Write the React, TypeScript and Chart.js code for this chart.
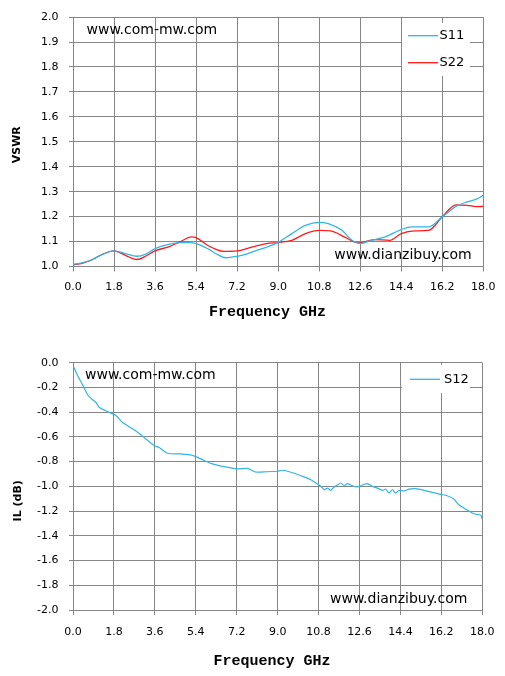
import { useEffect, useRef } from 'react';
import { Chart, registerables } from 'chart.js';

Chart.register(...registerables);

// ---------- data ----------
const freqTicks = [0, 1.8, 3.6, 5.4, 7.2, 9.0, 10.8, 12.6, 14.4, 16.2, 18.0];
const vswrTicks = [1.0, 1.1, 1.2, 1.3, 1.4, 1.5, 1.6, 1.7, 1.8, 1.9, 2.0];
const ilTicks = [0, -0.2, -0.4, -0.6, -0.8, -1.0, -1.2, -1.4, -1.6, -1.8, -2.0];

const s11Freq = [0, 0.4, 0.8, 1.2, 1.8, 2.3, 2.8, 3.2, 3.6, 4.2, 4.7, 5.1, 5.4, 5.9, 6.3, 6.7, 7.2, 7.6, 8.0, 8.5, 9.0, 9.6, 10.2, 10.8, 11.2, 11.8, 12.2, 12.6, 13.1, 13.7, 14.4, 14.85, 15.6, 16.2, 16.8, 17.3, 17.7, 18.0];
const s11Vswr = [1.008, 1.015, 1.026, 1.045, 1.063, 1.052, 1.041, 1.05, 1.072, 1.089, 1.096, 1.096, 1.092, 1.072, 1.05, 1.035, 1.041, 1.05, 1.063, 1.078, 1.097, 1.132, 1.165, 1.177, 1.172, 1.145, 1.108, 1.092, 1.105, 1.119, 1.148, 1.159, 1.159, 1.199, 1.241, 1.259, 1.27, 1.285];

const s22Freq = [0, 0.4, 0.8, 1.2, 1.8, 2.3, 2.8, 3.2, 3.6, 4.2, 4.7, 5.2, 5.4, 5.9, 6.3, 6.6, 7.2, 7.9, 8.5, 9.0, 9.6, 10.2, 10.8, 11.3, 11.9, 12.3, 12.6, 13.2, 13.9, 14.4, 15.0, 15.6, 16.2, 16.8, 17.3, 17.7, 18.0];
const s22Vswr = [1.007, 1.013, 1.025, 1.045, 1.063, 1.045, 1.028, 1.042, 1.063, 1.079, 1.099, 1.119, 1.116, 1.085, 1.068, 1.061, 1.063, 1.079, 1.092, 1.096, 1.105, 1.132, 1.145, 1.143, 1.119, 1.1, 1.095, 1.108, 1.105, 1.132, 1.143, 1.145, 1.199, 1.247, 1.245, 1.24, 1.241];

const s12Freq = [0.03, 0.2, 0.42, 0.64, 0.86, 1.0, 1.16, 1.52, 1.89, 2.18, 2.69, 3.13, 3.57, 3.79, 4.16, 4.74, 5.18, 5.62, 6.06, 6.64, 7.23, 7.67, 8.03, 8.5, 8.98, 9.22, 9.59, 10.02, 10.46, 10.9, 11.05, 11.19, 11.34, 11.49, 11.63, 11.78, 11.93, 12.07, 12.29, 12.51, 12.73, 12.95, 13.17, 13.39, 13.61, 13.75, 13.9, 14.05, 14.19, 14.34, 14.56, 14.78, 15.07, 15.44, 15.8, 16.17, 16.46, 16.75, 16.97, 17.27, 17.63, 17.93, 18.0];
const s12Loss = [-0.035, -0.103, -0.178, -0.259, -0.3, -0.32, -0.362, -0.395, -0.427, -0.484, -0.543, -0.605, -0.67, -0.686, -0.732, -0.738, -0.746, -0.778, -0.814, -0.841, -0.859, -0.854, -0.884, -0.882, -0.878, -0.87, -0.886, -0.914, -0.946, -1.0, -1.027, -1.014, -1.032, -1.005, -0.989, -0.973, -0.995, -0.978, -0.995, -1.005, -0.989, -0.978, -1.0, -1.014, -1.032, -1.022, -1.054, -1.027, -1.054, -1.032, -1.038, -1.022, -1.019, -1.032, -1.049, -1.065, -1.076, -1.103, -1.149, -1.184, -1.222, -1.232, -1.265];

// ---------- styling ----------
const BLUE = '#31b5e8';
const RED = '#ff1a1a';
const GRID = '#868686';
const TICK_FONT = { family: '"DejaVu Sans"', size: 11 };

type Overlay = {
  marks: { text: string; x: number; y: number }[];
  legend: { x: number; y: number; w: number; h: number; x1: number; x2: number; tx: number; firstY: number; gap: number };
  xTitle: { text: string; x: number; y: number };
  yTitle: { text: string; x: number; y: number };
};

function overlayPlugin(o: Overlay) {
  return {
    id: 'overlay',
    afterDatasetsDraw(chart: any) {
      const ctx = chart.ctx as CanvasRenderingContext2D;
      ctx.save();
      // watermarks
      ctx.font = '14px "DejaVu Sans"';
      ctx.fillStyle = '#000';
      ctx.textAlign = 'left';
      ctx.textBaseline = 'alphabetic';
      o.marks.forEach((m) => ctx.fillText(m.text, m.x, m.y));
      // legend
      const L = o.legend;
      ctx.fillStyle = '#fff';
      ctx.fillRect(L.x, L.y, L.w, L.h);
      chart.data.datasets.forEach((ds: any, i: number) => {
        const y = L.firstY + i * L.gap;
        ctx.strokeStyle = ds.borderColor;
        ctx.lineWidth = 1.3;
        ctx.beginPath();
        ctx.moveTo(L.x1, y);
        ctx.lineTo(L.x2, y);
        ctx.stroke();
        ctx.fillStyle = '#000';
        ctx.font = '13px "DejaVu Sans"';
        ctx.textBaseline = 'middle';
        ctx.textAlign = 'left';
        ctx.fillText(ds.label, L.tx, y);
      });
      // axis titles
      ctx.fillStyle = '#000';
      ctx.textAlign = 'center';
      ctx.textBaseline = 'middle';
      ctx.font = 'bold 15px "Liberation Mono"';
      ctx.fillText(o.xTitle.text, o.xTitle.x, o.xTitle.y);
      ctx.translate(o.yTitle.x, o.yTitle.y);
      ctx.rotate(-Math.PI / 2);
      ctx.font = 'bold 11px "DejaVu Sans"';
      ctx.fillText(o.yTitle.text, 0, 0);
      ctx.restore();
    },
  };
}

function makeConfig(p: {
  datasets: any[];
  yMin: number;
  yMax: number;
  yTicks: number[];
  padTop: number;
  xHeight: number;
  xTickPad: number;
  overlay: Overlay;
}) {
  return {
    type: 'line',
    data: { datasets: p.datasets },
    options: {
      animation: false,
      responsive: false,
      maintainAspectRatio: false,
      devicePixelRatio: 1,
      layout: { padding: { left: 0, right: 21.5, top: p.padTop, bottom: 0 } },
      plugins: { legend: { display: false }, tooltip: { enabled: false } },
      elements: { point: { radius: 0 } },
      scales: {
        x: {
          type: 'linear',
          min: 0,
          max: 18,
          afterBuildTicks: (s: any) => {
            s.ticks = freqTicks.map((value) => ({ value }));
          },
          afterFit: (s: any) => {
            s.height = p.xHeight;
          },
          ticks: {
            callback: (v: any) => Number(v).toFixed(1),
            font: TICK_FONT,
            color: '#000',
            padding: p.xTickPad,
            maxRotation: 0,
            autoSkip: false,
          },
          grid: { color: GRID, lineWidth: 1, tickLength: 5, drawTicks: true },
          border: { color: GRID, width: 1 },
        },
        y: {
          type: 'linear',
          min: p.yMin,
          max: p.yMax,
          afterBuildTicks: (s: any) => {
            s.ticks = p.yTicks.map((value) => ({ value }));
          },
          afterFit: (s: any) => {
            s.width = 73;
          },
          ticks: {
            callback: (v: any) => Number(v).toFixed(1),
            font: TICK_FONT,
            color: '#000',
            padding: 10.5,
            autoSkip: false,
          },
          grid: { color: GRID, lineWidth: 1, tickLength: 4, drawTicks: true },
          border: { color: GRID, width: 1 },
        },
      },
    },
    plugins: [overlayPlugin(p.overlay)],
  };
}

const toPoints = (xs: number[], ys: number[]) => xs.map((x, i) => ({ x, y: ys[i] }));

function ChartCanvas({ config }: { config: any }) {
  const ref = useRef<HTMLCanvasElement>(null);
  useEffect(() => {
    const chart = new Chart(ref.current as HTMLCanvasElement, config);
    return () => chart.destroy();
  }, [config]);
  return <canvas ref={ref} width={505} height={338} style={{ display: 'block', width: 505, height: 338 }} />;
}

const vswrConfig = makeConfig({
  datasets: [
    { label: 'S11', data: toPoints(s11Freq, s11Vswr), borderColor: BLUE, borderWidth: 1.3, cubicInterpolationMode: 'monotone', fill: false },
    { label: 'S22', data: toPoints(s22Freq, s22Vswr), borderColor: RED, borderWidth: 1.3, cubicInterpolationMode: 'monotone', fill: false },
  ],
  yMin: 1.0,
  yMax: 2.0,
  yTicks: vswrTicks,
  padTop: 16.5,
  xHeight: 71.5,
  xTickPad: 9.5,
  overlay: {
    marks: [
      { text: 'www.com-mw.com', x: 86.5, y: 34.3 },
      { text: 'www.dianzibuy.com', x: 334.3, y: 258.5 },
    ],
    legend: { x: 402, y: 23, w: 68, h: 53, x1: 408, x2: 438, tx: 439.5, firstY: 35.7, gap: 27 },
    xTitle: { text: 'Frequency GHz', x: 267.5, y: 312.2 },
    yTitle: { text: 'VSWR', x: 16.7, y: 144.7 },
  },
});

const ilConfig = makeConfig({
  datasets: [
    { label: 'S12', data: toPoints(s12Freq, s12Loss), borderColor: BLUE, borderWidth: 1.2, tension: 0.2, fill: false },
  ],
  yMin: -2.0,
  yMax: 0,
  yTicks: ilTicks,
  padTop: 24.7,
  xHeight: 66,
  xTickPad: 10.5,
  overlay: {
    marks: [
      { text: 'www.com-mw.com', x: 85, y: 41 },
      { text: 'www.dianzibuy.com', x: 330, y: 264.5 },
    ],
    legend: { x: 402, y: 27, w: 68, h: 28, x1: 410, x2: 440, tx: 444, firstY: 41.3, gap: 27 },
    xTitle: { text: 'Frequency GHz', x: 272, y: 323 },
    yTitle: { text: 'IL (dB)', x: 18, y: 162.8 },
  },
});

export default function App() {
  return (
    <div style={{ position: 'absolute', left: 0, top: 0, width: 505, height: 676, background: '#fff' }}>
      <ChartCanvas config={vswrConfig} />
      <ChartCanvas config={ilConfig} />
    </div>
  );
}
